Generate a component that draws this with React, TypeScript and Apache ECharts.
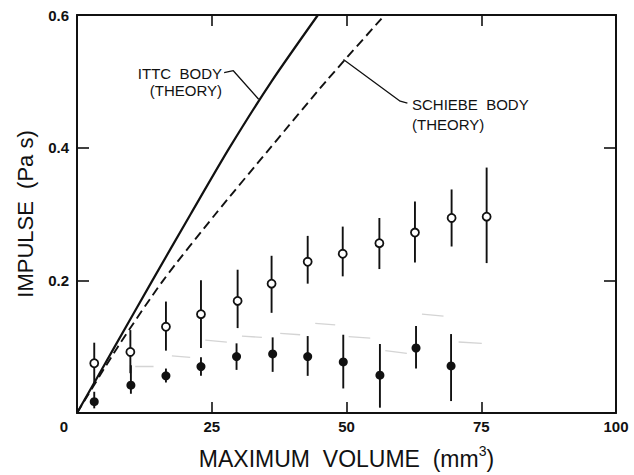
import React, { useEffect, useRef } from 'react';
import * as echarts from 'echarts';

// ---- data ----
const volumes = [3.2, 9.9, 16.5, 23.0, 29.8, 36.1, 42.8, 49.3, 56.1, 62.7, 69.5, 76.0];
const openImpulse = [0.075, 0.092, 0.130, 0.149, 0.169, 0.195, 0.228, 0.240, 0.256, 0.272, 0.294, 0.296];
const openLow = [0.045, 0.060, 0.094, 0.098, 0.128, 0.151, 0.195, 0.206, 0.217, 0.227, 0.251, 0.226];
const openHigh = [0.106, 0.125, 0.168, 0.200, 0.216, 0.237, 0.267, 0.281, 0.294, 0.319, 0.337, 0.370];

const filledVolumes = [3.2, 10.0, 16.5, 23.0, 29.6, 36.3, 42.8, 49.4, 56.2, 62.9, 69.4];
const filledImpulse = [0.017, 0.042, 0.056, 0.070, 0.085, 0.089, 0.085, 0.077, 0.057, 0.098, 0.071];
const filledLow = [0.007, 0.029, 0.046, 0.056, 0.065, 0.062, 0.056, 0.037, 0.008, 0.067, 0.018];
const filledHigh = [0.032, 0.072, 0.067, 0.084, 0.105, 0.114, 0.116, 0.118, 0.104, 0.131, 0.119];

const ittcVolume = [0, 7.0, 14.0, 21.1, 28.3, 36.1, 44.7];
const ittcImpulse = [0, 0.1, 0.2, 0.3, 0.4, 0.5, 0.6];
const schiebeVolume = [0, 7.6, 16.0, 25.7, 35.9, 46.2, 57.1];
const schiebeImpulse = [0, 0.1, 0.2, 0.3, 0.4, 0.5, 0.6];

// faint grey dashes (bleed-through in the scan)
const faintStart = [10.8, 17.6, 23.8, 30.6, 37.7, 44.2, 50.4, 57.2, 64.0, 70.8];
const faintEnd = [14.2, 21.0, 27.8, 34.3, 41.4, 47.9, 54.4, 61.2, 68.0, 75.1];
const faintImpulseStart = [0.071, 0.086, 0.110, 0.116, 0.120, 0.135, 0.115, 0.094, 0.149, 0.107];
const faintImpulseEnd = [0.071, 0.084, 0.107, 0.114, 0.118, 0.133, 0.113, 0.090, 0.146, 0.105];

const ittcLeader = [[27.3, 0.513], [29.0, 0.516], [33.7, 0.473]];
const schiebeLeader = [[49.43, 0.533], [59.96, 0.470], [61.3, 0.467]];

const xMin = 0, xMax = 100, xStep = 25;
const yMin = 0, yMax = 0.6, yStep = 0.2;

const FONT = '"Liberation Sans", Arial, Helvetica, sans-serif';
const INK = '#111';

export default function App() {
  const ref = useRef<HTMLDivElement>(null);
  useEffect(() => {
    const chart = echarts.init(ref.current!, null, { renderer: 'svg' });

    const axisCommon = {
      min: xMin, max: xMax, interval: xStep,
      axisLine: { show: true, onZero: false, lineStyle: { color: INK, width: 2 } },
      axisTick: { show: true, inside: true, length: 11, lineStyle: { color: INK, width: 1.6 } },
      splitLine: { show: false },
    };
    const yCommon = {
      min: yMin, max: yMax, interval: yStep,
      axisLine: { show: true, onZero: false, lineStyle: { color: INK, width: 2 } },
      axisTick: { show: true, inside: true, length: 12, lineStyle: { color: INK, width: 1.6 } },
      splitLine: { show: false },
    };

    const errRender = (params: any, api: any) => {
      const x = api.value(0);
      const p1 = api.coord([x, api.value(1)]);
      const p2 = api.coord([x, api.value(2)]);
      return {
        type: 'line',
        shape: { x1: p1[0], y1: p1[1], x2: p2[0], y2: p2[1] },
        style: { stroke: INK, lineWidth: 1.9 },
      };
    };

    const option: any = {
      animation: false,
      backgroundColor: '#fff',
      textStyle: { fontFamily: FONT },
      grid: { left: 77, right: 18, top: 15, bottom: 62, containLabel: false },
      xAxis: [
        {
          type: 'value', position: 'bottom', ...axisCommon,
          axisLabel: {
            show: true, margin: 6, color: INK, fontSize: 15, fontWeight: 'bold', fontFamily: FONT,
            formatter: (v: number) => (v === 0 ? '{z|0}' : String(v)),
            rich: { z: { padding: [0, 26, 0, 0], fontSize: 15, fontWeight: 'bold', color: INK, fontFamily: FONT } },
          },
          name: '{a|MAXIMUM  VOLUME  (mm}{s|3}{a|)}',
          nameLocation: 'middle',
          nameGap: 31,
          nameTextStyle: {
            rich: {
              a: { fontSize: 23, color: INK, fontFamily: FONT, lineHeight: 26, verticalAlign: 'bottom' },
              s: { fontSize: 14, color: INK, fontFamily: FONT, lineHeight: 14, verticalAlign: 'top' },
            },
          },
        },
        { type: 'value', position: 'top', ...axisCommon, axisLabel: { show: false } },
      ],
      yAxis: [
        {
          type: 'value', position: 'left', ...yCommon,
          axisLabel: {
            show: true, margin: 8, color: INK, fontSize: 15, fontWeight: 'bold', fontFamily: FONT,
            formatter: (v: number) => (v === 0 ? '' : v.toFixed(1)),
          },
          name: 'IMPULSE  (Pa s)',
          nameLocation: 'middle',
          nameGap: 41,
          nameTextStyle: { fontSize: 22, color: INK, fontFamily: FONT },
        },
        { type: 'value', position: 'right', ...yCommon, axisLabel: { show: false } },
      ],
      series: [
        {
          type: 'lines', coordinateSystem: 'cartesian2d', silent: true, z: 1,
          lineStyle: { color: '#d4d4d4', width: 1.3, opacity: 1 },
          data: faintStart.map((s, i) => ({
            coords: [[s, faintImpulseStart[i]], [faintEnd[i], faintImpulseEnd[i]]],
          })),
        },
        {
          type: 'line', name: 'ITTC', z: 3, symbol: 'none', smooth: 0.25,
          lineStyle: { color: INK, width: 2.2, type: 'solid' },
          data: ittcVolume.map((v, i) => [v, ittcImpulse[i]]),
        },
        {
          type: 'line', name: 'SCHIEBE', z: 3, symbol: 'none', smooth: 0.25,
          lineStyle: { color: INK, width: 1.9, type: [9, 5] },
          data: schiebeVolume.map((v, i) => [v, schiebeImpulse[i]]),
        },
        {
          type: 'line', z: 3, symbol: 'none',
          lineStyle: { color: INK, width: 1.3 },
          data: ittcLeader,
        },
        {
          type: 'line', z: 3, symbol: 'none',
          lineStyle: { color: INK, width: 1.3 },
          data: schiebeLeader,
        },
        {
          type: 'custom', z: 4, renderItem: errRender,
          encode: { x: 0, y: [1, 2] },
          data: volumes.map((v, i) => [v, openLow[i], openHigh[i]]),
        },
        {
          type: 'custom', z: 4, renderItem: errRender,
          encode: { x: 0, y: [1, 2] },
          data: filledVolumes.map((v, i) => [v, filledLow[i], filledHigh[i]]),
        },
        {
          type: 'scatter', z: 5, symbol: 'circle', symbolSize: 8,
          itemStyle: { color: '#fff', borderColor: INK, borderWidth: 1.8, opacity: 1 },
          data: volumes.map((v, i) => [v, openImpulse[i]]),
        },
        {
          type: 'scatter', z: 5, symbol: 'circle', symbolSize: 9,
          itemStyle: { color: INK, borderWidth: 0, opacity: 1 },
          data: filledVolumes.map((v, i) => [v, filledImpulse[i]]),
        },
      ],
      graphic: [
        { type: 'text', x: 222, y: 73, style: { text: 'ITTC  BODY', fill: INK, fontSize: 15, fontFamily: FONT, textAlign: 'right', textVerticalAlign: 'middle', align: 'right', verticalAlign: 'middle' } },
        { type: 'text', x: 222, y: 90.5, style: { text: '(THEORY)', fill: INK, fontSize: 15, fontFamily: FONT, textAlign: 'right', textVerticalAlign: 'middle', align: 'right', verticalAlign: 'middle' } },
        { type: 'text', x: 412, y: 104, style: { text: 'SCHIEBE  BODY', fill: INK, fontSize: 15, fontFamily: FONT, textAlign: 'left', textVerticalAlign: 'middle', align: 'left', verticalAlign: 'middle' } },
        { type: 'text', x: 412, y: 124, style: { text: '(THEORY)', fill: INK, fontSize: 15, fontFamily: FONT, textAlign: 'left', textVerticalAlign: 'middle', align: 'left', verticalAlign: 'middle' } },
      ],
    };

    chart.setOption(option);
    return () => chart.dispose();
  }, []);

  return (
    <div
      ref={ref}
      style={{ position: 'fixed', left: 0, top: 0, width: 634, height: 475, background: '#fff' }}
    />
  );
}
